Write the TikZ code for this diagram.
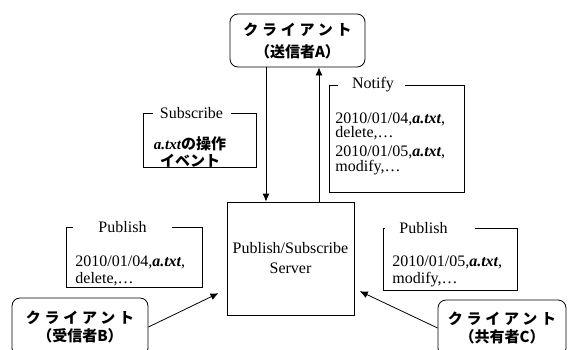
\documentclass[tikz,border=0pt]{standalone}
\usepackage{fontspec}
\setmainfont{Liberation Serif}
\newfontfamily\jp{Noto Sans CJK JP}
\newfontfamily\jpw[LetterSpace=25]{Noto Sans CJK JP}
\usetikzlibrary{arrows.meta}
\newcommand{\atxt}{{\bfseries\itshape a.txt}}
\begin{document}
\begin{tikzpicture}[x=1pt,y=-1pt,
  line width=0.8pt,
  every node/.style={inner sep=0pt, font=\fontsize{16}{18}\selectfont},
  client/.style={draw, rounded corners=8pt, align=center, font=\jp\bfseries\fontsize{15}{18}\selectfont},
  box/.style={draw},
  ttl/.style={fill=white, inner ysep=2pt},
  body/.style={align=left, anchor=north west},
  arr/.style={-{Latex[length=8pt,width=7pt]}}
]
\clip (0,0) rectangle (570,349);
\fill[white] (0,0) rectangle (570,349);

% clients
\node[client, minimum width=135, minimum height=53, font=\jp\bfseries\fontsize{15}{22}\selectfont] (clientA) at (297.5,40.5) {{\jpw\bfseries クライアント}\\（送信者A）};
\node[client, minimum width=136, minimum height=58] (clientB) at (80,327) {{\jpw\bfseries クライアント}\\（受信者B）};
\node[client, minimum width=128, minimum height=56] (clientC) at (502,328) {{\jpw\bfseries クライアント}\\（共有者C）};

% server
\node[box, minimum width=127, minimum height=113, align=center, font=\fontsize{16}{20}\selectfont] (server) at (290.5,258.5) {Publish/Subscribe\\Server};

% Subscribe box
\node[box, minimum width=113, minimum height=54] (sub) at (199.5,140) {};
\node[ttl] (subT) at (192,113) {\kern7pt Subscribe\kern8pt};
\node[align=center, font=\fontsize{15}{17}\selectfont] (subB) at (190,152) {\atxt{\jp\bfseries の操作}\\{\jp\bfseries イベント}};

% Notify box
\node[box, minimum width=135, minimum height=107] (notify) at (396.5,138.5) {};
\node[ttl] (notifyT) at (371.5,85) {\kern14pt Notify\kern11pt};
\node[body, font=\fontsize{16}{13}\selectfont] (notifyB) at (335,112) {2010/01/04,\atxt,\\delete,\ldots\\[5pt]2010/01/05,\atxt,\\modify,\ldots};

% Publish boxes
\node[box, minimum width=136, minimum height=60] (pubB) at (134,257) {};
\node[ttl] (pubBT) at (122.5,227) {\kern25pt Publish\kern25pt};
\node[body, font=\fontsize{16}{17}\selectfont] (pubBB) at (75,255) {2010/01/04,\atxt,\\delete,\ldots};

\node[box, minimum width=134, minimum height=62] (pubC) at (450,259) {};
\node[ttl] (pubCT) at (430,228) {\kern14pt Publish\kern27pt};
\node[body, font=\fontsize{16}{17}\selectfont] (pubCB) at (392,255) {2010/01/05,\atxt,\\modify,\ldots};

% connectors
\coordinate (s1) at ([xshift=-31.5pt]clientA.south);
\coordinate (n1) at ([xshift=21.5pt]clientA.south);
\draw[arr] (s1) -- (s1 |- server.north);
\draw[arr] (n1 |- server.north) -- (n1);
\draw[arr, shorten >=9pt] (clientB.east) -- (server);
\draw[arr, shorten >=6pt] (clientC.west) -- (server);
\end{tikzpicture}
\end{document}
